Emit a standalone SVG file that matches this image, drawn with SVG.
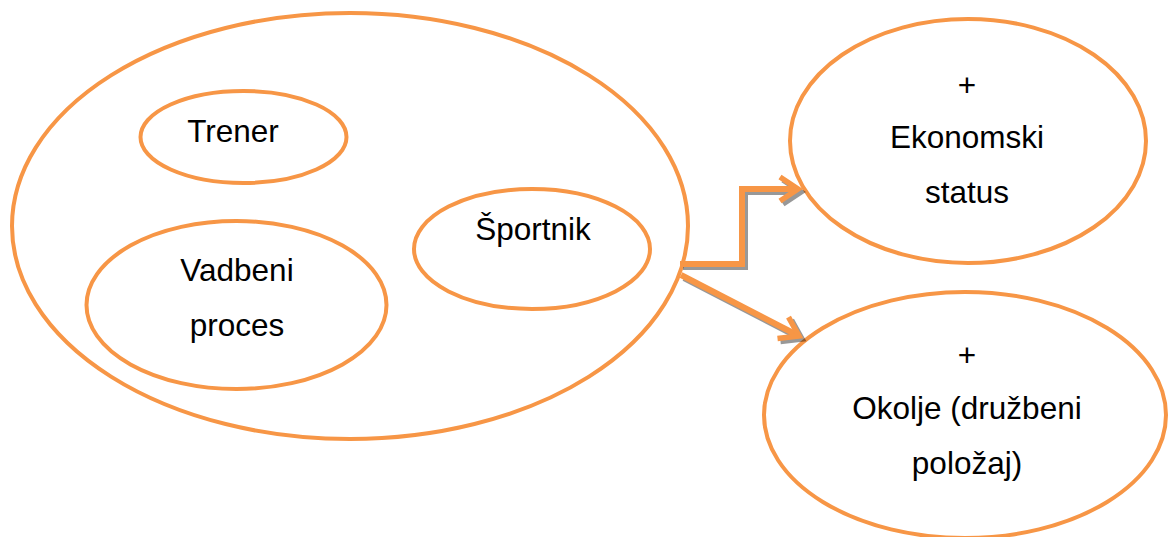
<svg xmlns="http://www.w3.org/2000/svg" width="1169" height="537" viewBox="0 0 1169 537">
  <style>
    .node { fill: #FFFFFF; stroke: #F79646; stroke-width: 4; }
    .lbl { font-family: "Liberation Sans", Arial, sans-serif; font-size: 31.5px; fill: #000000; text-anchor: middle; }
    .conn { fill: none; stroke: #F79646; stroke-width: 6; }
    .shadow { fill: none; stroke: #000000; stroke-width: 6; }
  </style>
  <defs>
    <marker id="arrow" markerUnits="userSpaceOnUse" viewBox="0 0 24 28" refX="21" refY="14" markerWidth="24" markerHeight="28" orient="auto" overflow="visible">
      <path d="M3,2 L21,14 L3,26" fill="none" stroke="#F79646" stroke-width="5.5"/>
    </marker>
    <marker id="arrowShadow" markerUnits="userSpaceOnUse" viewBox="0 0 24 28" refX="21" refY="14" markerWidth="24" markerHeight="28" orient="auto" overflow="visible">
      <path d="M3,2 L21,14 L3,26" fill="none" stroke="#000000" stroke-width="5.5"/>
    </marker>
  </defs>
  <rect width="1169" height="537" fill="#FFFFFF"/>

  <g id="node-group">
    <ellipse class="node" cx="350" cy="226" rx="338" ry="213"/>
  </g>
  <g id="node-trener">
    <ellipse class="node" cx="243.5" cy="137" rx="103" ry="46"/>
    <text class="lbl" x="233" y="142">Trener</text>
  </g>
  <g id="node-vadbeni">
    <ellipse class="node" cx="236.5" cy="305" rx="150" ry="84"/>
    <text class="lbl" x="237" y="281">Vadbeni</text>
    <text class="lbl" x="237" y="336">proces</text>
  </g>
  <g id="node-sportnik">
    <ellipse class="node" cx="532" cy="249" rx="118" ry="60"/>
    <text class="lbl" x="533" y="240">Športnik</text>
  </g>
  <g id="node-ekonomski">
    <ellipse class="node" cx="968" cy="141" rx="178" ry="122"/>
    <text class="lbl" x="967" y="96">+</text>
    <text class="lbl" x="967" y="148">Ekonomski</text>
    <text class="lbl" x="967" y="203">status</text>
  </g>
  <g id="node-okolje">
    <ellipse class="node" cx="965" cy="415" rx="201" ry="123"/>
    <text class="lbl" x="967" y="366">+</text>
    <text class="lbl" x="967" y="419">Okolje (družbeni</text>
    <text class="lbl" x="967" y="474">položaj)</text>
  </g>

  <g id="connectors">
    <g opacity="0.4" transform="translate(3,3)">
      <path class="shadow" d="M680,264 H742 V189 H798" marker-end="url(#arrowShadow)"/>
      <path class="shadow" d="M681,275 L799,336" marker-end="url(#arrowShadow)"/>
    </g>
    <path class="conn" d="M680,264 H742 V189 H798" marker-end="url(#arrow)"/>
    <path class="conn" d="M681,275 L799,336" marker-end="url(#arrow)"/>
  </g>
</svg>
